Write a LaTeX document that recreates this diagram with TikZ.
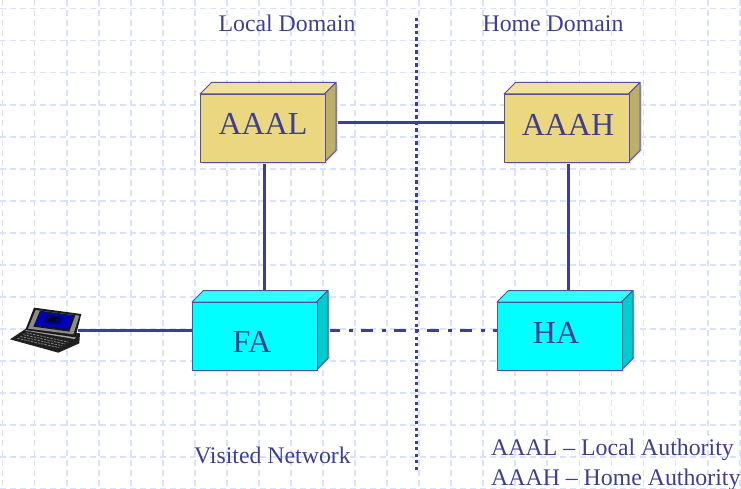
\documentclass[tikz,border=0pt]{standalone}
\usepackage{fontspec}
\setmainfont{Liberation Serif}
\definecolor{ink}{HTML}{3F3F8F}
\definecolor{edge}{HTML}{50509F}
\definecolor{gridc}{HTML}{D8E2FF}
\definecolor{goldF}{HTML}{EBD77F}
\definecolor{goldT}{HTML}{F1E19B}
\definecolor{goldS}{HTML}{BFAE68}
\definecolor{cyanF}{HTML}{00FFFF}
\definecolor{cyanT}{HTML}{33FFFF}
\definecolor{cyanS}{HTML}{00CCCC}
\tikzset{
  gridline/.style={draw=gridc,line width=1.8pt,dash pattern=on 6pt off 4pt},
  conn/.style={draw=ink,line width=3.2pt},
  boxface/.style={draw=edge,line width=1pt,line join=round},
  bigtext/.style={text=ink,font=\fontsize{32}{36}\selectfont,inner sep=0pt},
  caption/.style={text=ink,font=\fontsize{23.8}{28}\selectfont,inner sep=0pt},
}
% name, left, top, front colour, top colour, side colour
\newcommand{\cubebox}[6]{%
  \fill[black!12!white] (#2+3,#3+2) rectangle (#2+127,#3+70);
  \fill[black!12!white] (#2+125,#3+70) -- (#2+138,#3+57) -- (#2+138,#3-9) -- (#2+125,#3) -- cycle;
  \path[boxface,fill=#5] (#2,#3) -- (#2+11.5,#3-11.5) -- (#2+136,#3-11.5) -- (#2+124.5,#3) -- cycle;
  \path[boxface,fill=#6] (#2+124.5,#3) -- (#2+136,#3-11.5) -- (#2+136,#3+56.5) -- (#2+124.5,#3+68) -- cycle;
  \node[boxface,fill=#4,minimum width=124.5pt,minimum height=68pt,inner sep=0pt,anchor=north west] (#1) at (#2,#3) {};
}
\begin{document}
\begin{tikzpicture}[x=1pt,y=-1pt]
\useasboundingbox (0,0) rectangle (741,489);
\fill[white] (0,0) rectangle (741,489);
% background grid
\foreach \gx in {0,...,23} {\draw[gridline] ({2.5+32.05*\gx},0) -- ({2.5+32.05*\gx},489);}
\foreach \gy in {0,...,15} {\draw[gridline] (0,{8.5+32.05*\gy}) -- (741,{8.5+32.05*\gy});}
% divider
\coordinate (divT) at (416.5,18);
\coordinate (divB) at (416.5,471);
\draw[draw=ink,line width=3pt,dash pattern=on 3.2pt off 3.3pt] (divT) -- (divB);
% connector end points
\coordinate (lapE) at (78,330.5);
\coordinate (aaalE) at (336,122.5);
\coordinate (aaahW) at (504,122.5);
\coordinate (faE) at (328,330.5);
\coordinate (haW) at (497,330.5);
\coordinate (aaalS) at (264.5,160);
\coordinate (faN) at (264.5,292);
\coordinate (aaahS) at (568.5,160);
\coordinate (haN) at (568.5,292);
\coordinate (faW) at (193,330.5);
\draw[conn] (aaalE) -- (aaahW);
\draw[conn] (aaalS) -- (faN);
\draw[conn] (aaahS) -- (haN);
\draw[conn] (lapE) -- (faW);
\draw[conn,dash pattern=on 12pt off 9pt on 4pt off 8pt] (faE) -- (haW);
% boxes
\cubebox{aaal}{200}{94}{goldF}{goldT}{goldS}
\cubebox{aaah}{504}{94}{goldF}{goldT}{goldS}
\cubebox{fa}{192}{302}{cyanF}{cyanT}{cyanS}
\cubebox{ha}{497}{302}{cyanF}{cyanT}{cyanS}
\node[bigtext] (taaal) at (263,124) {AAAL};
\node[bigtext] (taaah) at (568,124.5) {AAAH};
\node[bigtext] (tfa) at (252,341.5) {FA};
\node[bigtext] (tha) at (556,333) {HA};
% captions
\node[caption] (local) at (287,23.5) {Local Domain};
\node[caption] (home) at (553,23.5) {Home Domain};
\node[caption,anchor=base west] (visited) at (194,463) {Visited Network};
\node[caption,anchor=base west] (l1) at (491,455) {AAAL – Local Authority};
\node[caption,anchor=base west] (l2) at (491,485) {AAAH – Home Authority};
% laptop
\begin{scope}[shift={(0,280)},x=0.3333pt,y=-0.3333pt]
  % keyboard deck
  \fill[black!88] (30,178) -- (78,146) -- (240,160) -- (238,190) -- (175,218) -- cycle;
  \foreach \k in {0,...,3} {
    \draw[black!45,line width=0.7pt,dash pattern=on 2.5pt off 1pt] ({52+\k*9},{175-\k*5.5}) -- ({178+\k*9},{203-\k*5.5});
  }
  \fill[black!35] (76,152) -- (82,147) -- (228,170) -- (224,177) -- cycle;
  % lid
  \fill[black!90] (76,150) -- (102,83) -- (244,102) -- (226,172) -- cycle;
  \fill[black!45] (84,146) -- (107,90) -- (238,107) -- (220,163) -- cycle;
  \fill[black!90] (100,140) -- (120,92) -- (226,106) -- (208,155) -- cycle;
  \fill[blue!75!black] (105,136) -- (124,96) -- (219,108) -- (204,148) -- cycle;
  \fill[blue!45!black] (130,128) -- (142,103) -- (190,109) -- (180,134) -- cycle;
  \fill[blue!20!black] (145,124) -- (153,108) -- (174,111) -- (167,127) -- cycle;
\end{scope}
\end{tikzpicture}
\end{document}
